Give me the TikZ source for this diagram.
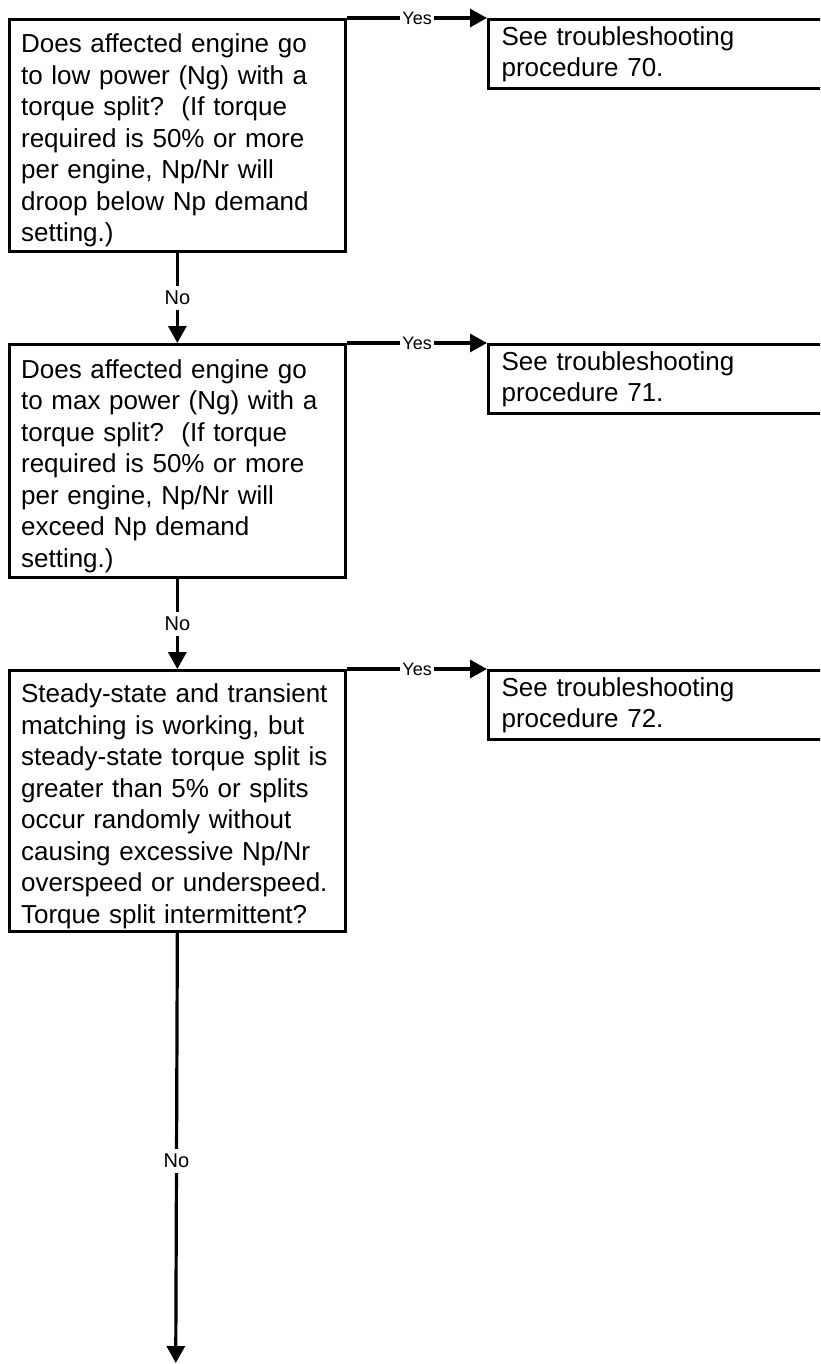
\documentclass[tikz,border=0pt]{standalone}
\usepackage{fontspec}
\setmainfont{Liberation Sans}
\usetikzlibrary{arrows.meta}
\begin{document}
\begin{tikzpicture}[x=1pt,y=-1pt,
  line width=3.2pt,
  question/.style={draw, anchor=north west, minimum width=336.5pt,
    inner xsep=12pt, inner ysep=0pt, text width=312.5pt, align=left,
    font=\fontsize{26}{31.5}\selectfont},
  result/.style={draw, anchor=north west, minimum width=345pt,
    minimum height=69pt, inner xsep=13pt, inner ysep=0pt, text width=319pt,
    align=left, font=\fontsize{26}{31.5}\selectfont},
  flow/.style={-{Triangle[length=17pt,width=18pt]}},
  yeslabel/.style={fill=white, inner xsep=2pt, inner ysep=1pt,
    font=\fontsize{18}{20}\selectfont},
  nolabel/.style={fill=white, inner xsep=2pt, inner ysep=5pt,
    font=\fontsize{20}{22}\selectfont}]

\clip (0,0) rectangle (820,1364);

% strut that lowers the question text a little inside its box
\def\qtop{\rule{0pt}{29pt}}

% decision boxes
\node[question, minimum height=232pt] (q1) at (7.5,18) {\qtop Does affected engine go\\
to low power (Ng) with a\\
torque split?\ \ (If torque\\
required is 50\% or more\\
per engine, Np/Nr will\\
droop below Np demand\\
setting.)};

\node[question, minimum height=233pt] (q2) at (7.5,343) {\qtop Does affected engine go\\
to max power (Ng) with a\\
torque split?\ \ (If torque\\
required is 50\% or more\\
per engine, Np/Nr will\\
exceed Np demand\\
setting.)};

\node[question, minimum height=261pt] (q3) at (7.5,669) {\qtop Steady-state and transient\\
matching is working, but\\
steady-state torque split is\\
greater than 5\% or splits\\
occur randomly without\\
causing excessive Np/Nr\\
overspeed or underspeed.\\
Torque split intermittent?};

% outcome boxes
\node[result] (r1) at (487,18) {See troubleshooting\\procedure 70.};
\node[result] (r2) at (487,343) {See troubleshooting\\procedure 71.};
\node[result] (r3) at (487,669) {See troubleshooting\\procedure 72.};

\coordinate (out) at (175.75,1363);

% connectors
\draw[flow] (q1.north east) -- node[yeslabel]{Yes} (r1.north west);
\draw[flow] (q2.north east) -- node[yeslabel]{Yes} (r2.north west);
\draw[flow] (q3.north east) -- node[yeslabel]{Yes} (r3.north west);
\draw[flow] (q1.south) -- node[nolabel]{No} (q2.north);
\draw[flow] (q2.south) -- node[nolabel]{No} (q3.north);
\draw[flow] (q3.south) -- node[nolabel, pos=0.53]{No} (out);
\end{tikzpicture}
\end{document}
